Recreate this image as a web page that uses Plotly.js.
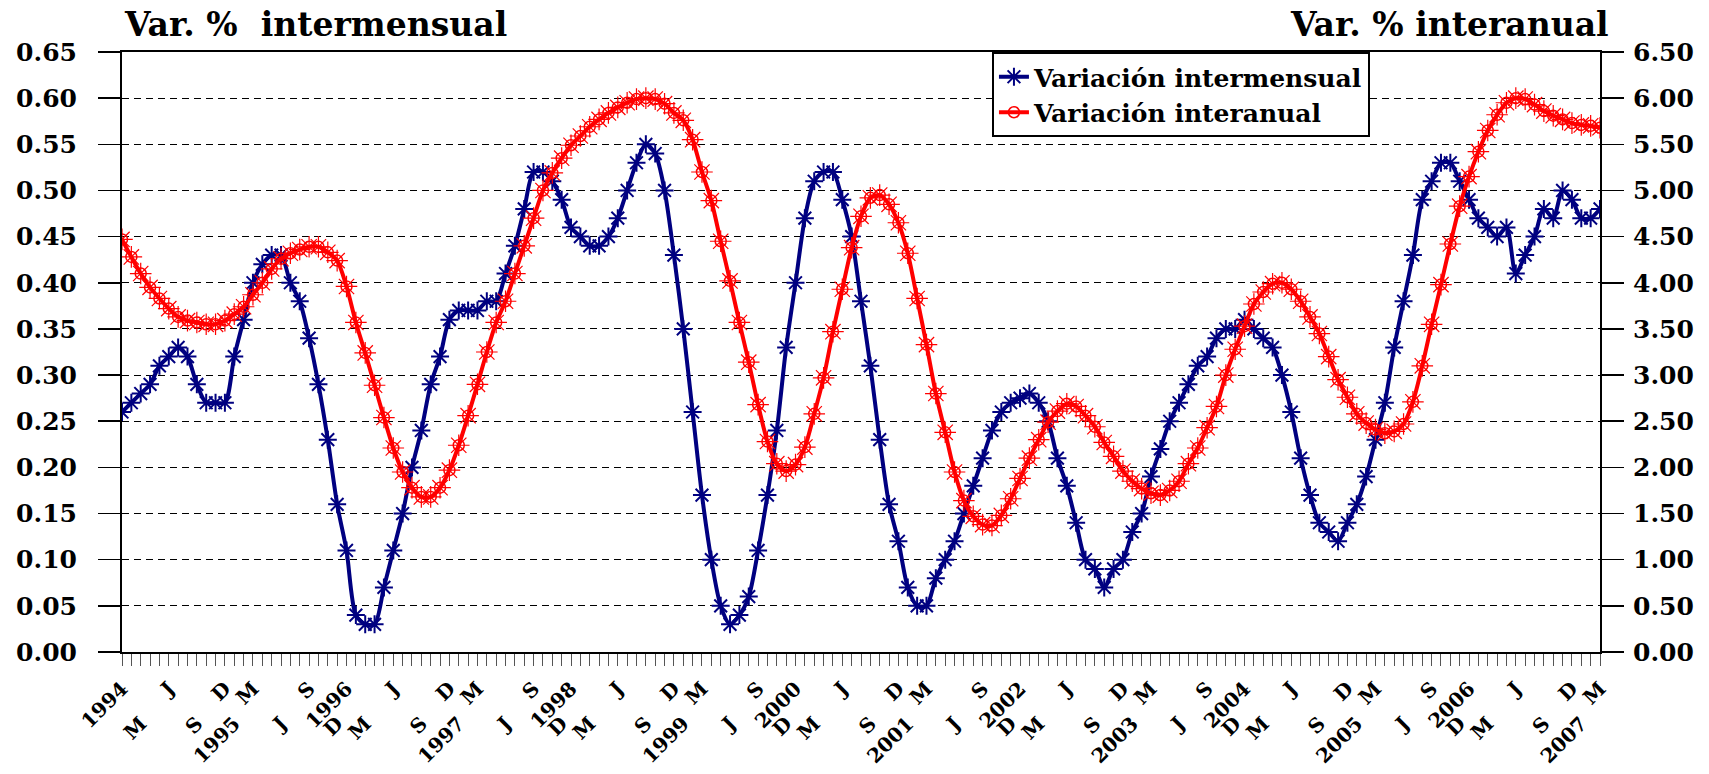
<!DOCTYPE html>
<html><head><meta charset="utf-8">
<script src="https://cdn.plot.ly/plotly-3.0.1.min.js"></script>
<style>html,body{margin:0;padding:0;background:#fff;} #chart{width:1709px;height:774px;}</style>
</head><body><div id="chart"></div>
<script>
const startYear = 1994;
const intermensual = [
  0.26,0.27,0.28,0.29,0.31,0.32,0.33,0.32,0.29,0.27,0.27,0.27,
  0.32,0.36,0.40,0.42,0.43,0.43,0.40,0.38,0.34,0.29,0.23,0.16,
  0.11,0.04,0.03,0.03,0.07,0.11,0.15,0.20,0.24,0.29,0.32,0.36,
  0.37,0.37,0.37,0.38,0.38,0.41,0.44,0.48,0.52,0.52,0.51,0.49,
  0.46,0.45,0.44,0.44,0.45,0.47,0.50,0.53,0.55,0.54,0.50,0.43,
  0.35,0.26,0.17,0.10,0.05,0.03,0.04,0.06,0.11,0.17,0.24,0.33,
  0.40,0.47,0.51,0.52,0.52,0.49,0.45,0.38,0.31,0.23,0.16,0.12,
  0.07,0.05,0.05,0.08,0.10,0.12,0.15,0.18,0.21,0.24,0.26,0.27,
  0.275,0.28,0.27,0.25,0.21,0.18,0.14,0.10,0.09,0.07,0.09,0.10,
  0.13,0.15,0.19,0.22,0.25,0.27,0.29,0.31,0.32,0.34,0.35,0.35,
  0.36,0.35,0.34,0.33,0.30,0.26,0.21,0.17,0.14,0.13,0.12,0.14,
  0.16,0.19,0.23,0.27,0.33,0.38,0.43,0.49,0.51,0.53,0.53,0.51,
  0.49,0.47,0.46,0.45,0.46,0.41,0.43,0.45,0.48,0.47,0.50,0.49,
  0.47,0.47,0.48
];
const interanual = [
  4.47,4.28,4.10,3.95,3.83,3.72,3.63,3.59,3.57,3.55,3.55,3.59,
  3.66,3.74,3.87,4.00,4.15,4.26,4.32,4.36,4.39,4.39,4.33,4.24,
  3.96,3.57,3.24,2.89,2.54,2.21,1.95,1.78,1.68,1.68,1.78,1.97,
  2.24,2.56,2.90,3.25,3.57,3.80,4.10,4.40,4.70,5.00,5.19,5.35,
  5.49,5.59,5.69,5.77,5.84,5.90,5.95,5.99,6.00,5.99,5.94,5.84,
  5.76,5.55,5.20,4.89,4.45,4.02,3.57,3.14,2.68,2.28,2.04,1.96,
  2.03,2.22,2.58,2.97,3.47,3.93,4.38,4.72,4.92,4.95,4.85,4.65,
  4.32,3.83,3.33,2.80,2.38,1.95,1.64,1.47,1.38,1.37,1.48,1.66,
  1.88,2.10,2.30,2.49,2.61,2.69,2.66,2.56,2.44,2.27,2.12,1.96,
  1.85,1.77,1.72,1.70,1.75,1.85,2.04,2.21,2.43,2.66,3.00,3.28,
  3.53,3.77,3.90,3.99,4.00,3.93,3.80,3.63,3.45,3.20,2.95,2.76,
  2.58,2.48,2.41,2.37,2.39,2.47,2.71,3.10,3.55,3.98,4.42,4.83,
  5.15,5.42,5.65,5.82,5.95,6.00,5.99,5.93,5.86,5.81,5.77,5.73,
  5.71,5.70,5.68
];
const monthLetters = ['', '', 'M', '', '', 'J', '', '', 'S', '', '', 'D'];
const seriesNames = ['Variación intermensual', 'Variación interanual'];
const leftTitle = 'Var.\u00a0%\u00a0\u00a0intermensual';
const rightTitle = 'Var.\u00a0%\u00a0interanual';

const FONT = 'DejaVu Serif';
const idx = intermensual.map((_, i) => i);
const upperVals = [], upperText = [], lowerVals = [], lowerText = [];
let k = 0;
idx.forEach(i => {
  const m = i % 12;
  const lab = m === 0 ? String(startYear + Math.floor(i / 12)) : monthLetters[m];
  if (!lab) return;
  if (k % 2 === 0) { upperVals.push(i); upperText.push(lab); }
  else { lowerVals.push(i); lowerText.push(lab); }
  k++;
});
const xr = [0, idx.length - 1];

const traces = [
  { x: idx, y: intermensual, name: seriesNames[0], type: 'scatter', mode: 'lines+markers',
    xaxis: 'x', yaxis: 'y',
    line: { color: '#000080', width: 4, shape: 'spline', smoothing: 0.8 },
    marker: { symbol: 'asterisk-open', size: 15, color: '#000080', line: { color: '#000080', width: 2 } } },
  { x: idx, y: interanual, name: seriesNames[1], type: 'scatter', mode: 'markers',
    xaxis: 'x', yaxis: 'y2', showlegend: false, hoverinfo: 'skip',
    marker: { symbol: 'asterisk-open', size: 18, color: '#FF0000', line: { color: '#FF0000', width: 1.2 } } },
  { x: idx, y: interanual, name: seriesNames[1], type: 'scatter', mode: 'lines+markers',
    xaxis: 'x', yaxis: 'y2',
    line: { color: '#FF0000', width: 4, shape: 'spline', smoothing: 0.8 },
    marker: { symbol: 'circle', size: 11, color: 'rgba(255,255,255,0)', line: { color: '#FF0000', width: 1.5 } } },
  { x: [], y: [], xaxis: 'x2', yaxis: 'y', showlegend: false, type: 'scatter' },
  { x: [], y: [], xaxis: 'x3', yaxis: 'y', showlegend: false, type: 'scatter' }
];

const tickFontX = { family: FONT, size: 20, color: '#000', weight: 'bold' };
const layout = {
  width: 1709, height: 774,
  margin: { l: 122, r: 109, t: 52, b: 122 },
  paper_bgcolor: '#fff', plot_bgcolor: '#fff',
  showlegend: true,
  legend: { x: 0.5886, y: 1, xanchor: 'left', yanchor: 'top', bgcolor: '#fff',
    bordercolor: '#000', borderwidth: 2, font: { family: FONT, size: 25, color: '#000', weight: 'bold' },
    tracegroupgap: 0, itemwidth: 30 },
  xaxis: { type: 'linear', range: xr, showgrid: false, zeroline: false,
    showline: true, linecolor: '#000', linewidth: 2, mirror: true,
    ticks: 'outside', ticklen: 12, tickwidth: 1, tickcolor: '#555',
    tickvals: idx, ticktext: idx.map(() => ''), fixedrange: true },
  xaxis2: { type: 'linear', range: xr, overlaying: 'x', anchor: 'y', side: 'bottom',
    showgrid: false, zeroline: false, showline: false, ticks: '',
    tickvals: upperVals, ticktext: upperText, tickangle: -45, tickfont: tickFontX,
    ticklabelstandoff: 20 },
  xaxis3: { type: 'linear', range: xr, overlaying: 'x', anchor: 'y', side: 'bottom',
    showgrid: false, zeroline: false, showline: false, ticks: '',
    tickvals: lowerVals, ticktext: lowerText, tickangle: -45, tickfont: tickFontX,
    ticklabelstandoff: 55 },
  yaxis: { range: [0, 0.65], dtick: 0.05, tick0: 0, tickformat: '.2f',
    showgrid: true, gridcolor: '#000', gridwidth: 1, griddash: '7px,5px',
    zeroline: false, showline: true, linecolor: '#000', linewidth: 2, mirror: true,
    ticks: 'outside', ticklen: 22, tickwidth: 1.5, tickcolor: '#000',
    tickfont: { family: FONT, size: 25, color: '#000', weight: 'bold' }, ticklabelstandoff: 16 },
  yaxis2: { range: [0, 6.5], dtick: 0.5, tick0: 0, tickformat: '.2f', overlaying: 'y', side: 'right',
    showgrid: false, zeroline: false, showline: true, linecolor: '#000', linewidth: 2,
    ticks: 'outside', ticklen: 22, tickwidth: 1.5, tickcolor: '#000',
    tickfont: { family: FONT, size: 25, color: '#000', weight: 'bold' }, ticklabelstandoff: 4 },
  annotations: [
    { text: leftTitle, xref: 'paper', yref: 'paper', x: 0, y: 1.0, yshift: 28, xanchor: 'left', yanchor: 'middle',
      showarrow: false, font: { family: FONT, size: 33, color: '#000', weight: 'bold' } },
    { text: rightTitle, xref: 'paper', yref: 'paper', x: 1.0074, y: 1.0, yshift: 28, xanchor: 'right', yanchor: 'middle',
      showarrow: false, font: { family: FONT, size: 33, color: '#000', weight: 'bold' } }
  ]
};
Plotly.newPlot('chart', traces, layout, { staticPlot: true, displayModeBar: false });
</script></body></html>
